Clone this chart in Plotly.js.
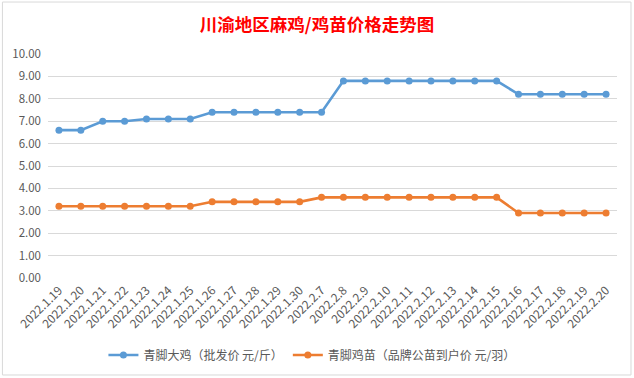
<!DOCTYPE html>
<html>
<head>
<meta charset="utf-8">
<script src="https://cdn.plot.ly/plotly-3.0.1.min.js"></script>
<style>html,body{margin:0;padding:0;background:#fff;}#chart{width:634px;height:378px;}</style>
</head>
<body>
<div id="chart"></div>
<script>
const categories = ["2022.1.19","2022.1.20","2022.1.21","2022.1.22","2022.1.23","2022.1.24","2022.1.25","2022.1.26","2022.1.27","2022.1.28","2022.1.29","2022.1.30","2022.2.7","2022.2.8","2022.2.9","2022.2.10","2022.2.11","2022.2.12","2022.2.13","2022.2.14","2022.2.15","2022.2.16","2022.2.17","2022.2.18","2022.2.19","2022.2.20"];
const chickenPrice = [6.6,6.6,7.0,7.0,7.1,7.1,7.1,7.4,7.4,7.4,7.4,7.4,7.4,8.8,8.8,8.8,8.8,8.8,8.8,8.8,8.8,8.2,8.2,8.2,8.2,8.2];
const chickPrice = [3.2,3.2,3.2,3.2,3.2,3.2,3.2,3.4,3.4,3.4,3.4,3.4,3.6,3.6,3.6,3.6,3.6,3.6,3.6,3.6,3.6,2.9,2.9,2.9,2.9,2.9];
const seriesNames = ["青脚大鸡（批发价 元/斤）","青脚鸡苗（品牌公苗到户价 元/羽）"];
const yTicks = [0,1,2,3,4,5,6,7,8,9,10];

const font = "'Noto Sans CJK SC', 'Noto Sans', sans-serif";
const traces = [
  {x: categories, y: chickenPrice, name: seriesNames[0], type: 'scatter', mode: 'lines+markers',
   line: {color: '#5B9BD5', width: 2.6}, marker: {color: '#5B9BD5', size: 7}},
  {x: categories, y: chickPrice, name: seriesNames[1], type: 'scatter', mode: 'lines+markers',
   line: {color: '#ED7D31', width: 2.6}, marker: {color: '#ED7D31', size: 7}}
];
const layout = {
  width: 634, height: 378,
  margin: {l: 48, r: 17, t: 54, b: 100},
  paper_bgcolor: '#fff', plot_bgcolor: '#fff',
  font: {family: font, color: '#595959', size: 12},
  title: {text: '<b>川渝地区麻鸡/鸡苗价格走势图</b>', font: {family: "'Noto Sans CJK SC', serif", size: 17.5, color: '#FF0000'},
          x: 0.5, xref: 'container', xanchor: 'center', y: 0.935, yref: 'container', yanchor: 'middle'},
  xaxis: {type: 'category', range: [-0.5, 25.5], tickangle: -45, showgrid: false, zeroline: false, automargin: false,
          showline: false, ticks: '', tickfont: {size: 12, color: '#595959'}, ticklabelstandoff: 2},
  yaxis: {range: [0, 10], tickvals: yTicks, tickformat: '.2f', showgrid: true, gridcolor: '#D9D9D9', gridwidth: 1,
          zeroline: false, showline: false, ticks: '', automargin: false, tickfont: {size: 11.5, color: '#595959'}, ticklabelstandoff: 6},
  showlegend: true,
  legend: {orientation: 'h', xref: 'container', yref: 'container', x: 0.492, xanchor: 'center', y: 0.061, yanchor: 'middle',
           font: {size: 12, color: '#595959'}, itemwidth: 30, tracegroupgap: 0},
  shapes: [
    {type: 'rect', xref: 'paper', yref: 'paper', x0: -0.0801, x1: 1.0246, y0: -0.433, y1: 1.232,
     line: {color: '#D9D9D9', width: 1}, fillcolor: 'rgba(0,0,0,0)'}
  ]
};
Plotly.newPlot('chart', traces, layout, {displayModeBar: false, staticPlot: true});
</script>
</body>
</html>
